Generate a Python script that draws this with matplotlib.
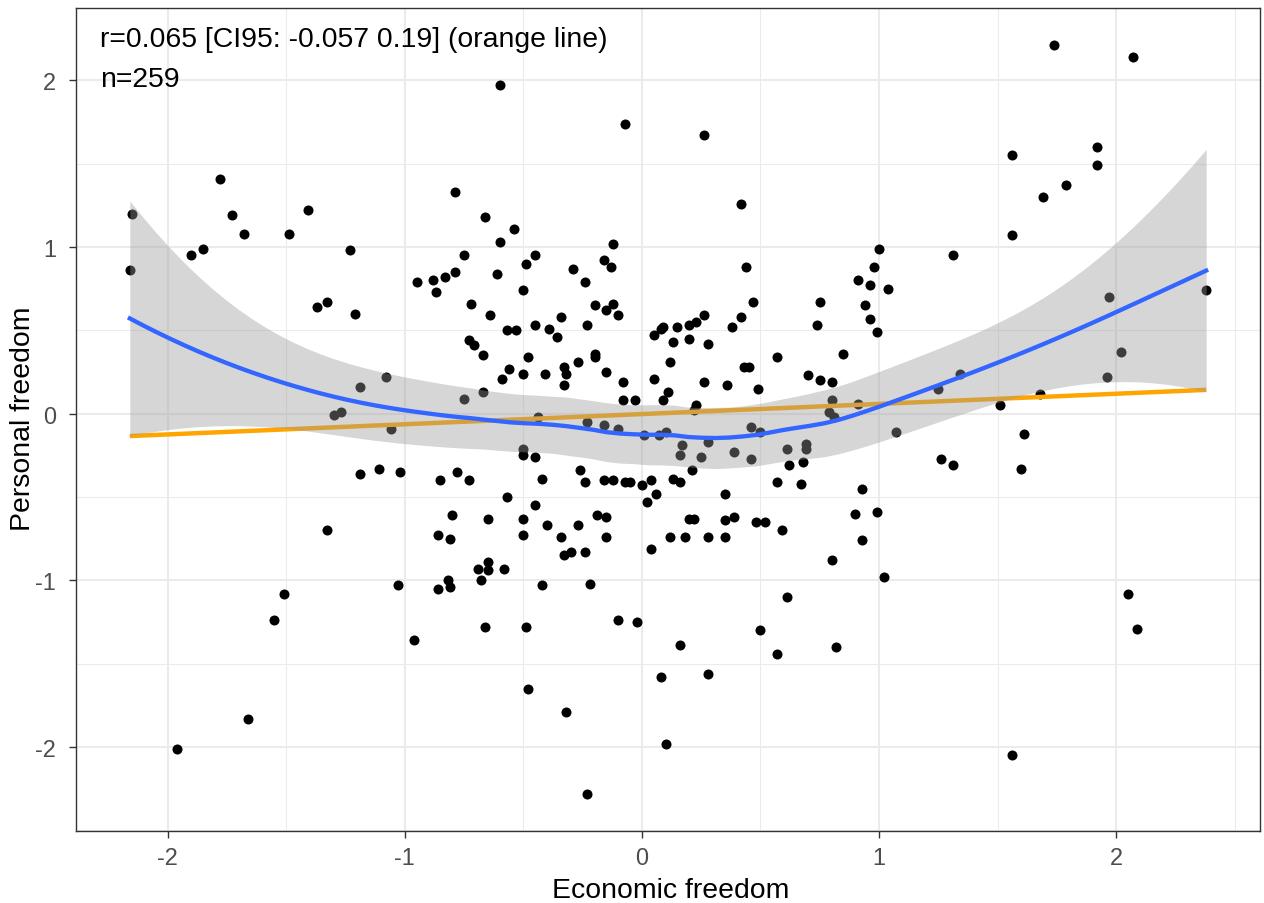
import numpy as np
import matplotlib
matplotlib.use("Agg")
import matplotlib.pyplot as plt

plt.rcParams['font.family'] = ['Liberation Sans', 'DejaVu Sans']

# Economic freedom (x) and Personal freedom (y)
econ = [
 -1.78,-2.15,-1.73,-1.41,-1.68,-1.49,-1.85,-1.90,-1.23,-2.16,
 -0.60,-0.07,-0.79,-0.66,-0.54,-0.60,-0.12,-0.75,-0.45,-0.49,
 -0.29,-0.16,-0.13,-0.61,-0.79,-0.83,-0.88,-0.95,-0.24,
 0.26,0.42,0.44,1.00,0.98,1.31,0.91,0.96,
 1.74,2.07,1.56,1.92,1.92,1.79,1.69,1.56,
 -1.37,-1.33,-1.21,-1.19,-1.30,-1.27,-1.19,-1.33,
 -0.87,-0.50,-0.72,-0.64,-0.20,-0.15,-0.12,-0.10,-0.34,-0.23,
 -0.45,-0.57,-0.53,-0.39,-0.36,-0.73,-0.71,-0.67,-0.48,-0.20,
 -0.20,-0.27,-0.33,-0.32,-0.56,-0.50,-0.41,-0.15,-0.59,-0.33,
 -0.08,0.05,0.05,0.08,0.09,0.13,0.12,0.11,0.09,-0.08,
 -0.03,-1.08,-0.75,-0.67,-1.06,-0.44,-0.23,-0.16,-0.10,0.01,
 0.07,0.10,-0.50,-0.50,-0.45,-1.11,-1.02,-0.85,-0.78,-0.73,
 -0.42,-0.26,-0.24,-0.16,-0.12,-0.07,-0.05,0.00,0.04,0.13,
 0.06,0.02,-0.57,-0.45,-0.80,-0.65,-0.50,-0.19,-0.15,-0.40,
 -0.27,-0.86,-0.81,-0.50,-0.34,-0.15,0.12,0.04,-0.33,-0.30,
 -0.24,-0.65,
 0.47,0.75,0.94,1.04,0.96,0.99,0.74,0.85,0.26,0.23,
 0.20,0.15,0.20,0.38,0.42,0.28,0.57,0.43,0.45,0.26,
 0.36,0.49,0.70,0.75,0.80,0.80,0.91,0.79,0.81,0.23,
 1.25,1.34,1.07,0.46,0.50,0.17,0.28,0.16,0.25,0.39,
 0.46,0.61,0.69,0.69,0.62,0.68,0.21,0.16,0.57,0.67,
 0.93,1.26,1.31,0.35,0.20,0.22,0.35,0.39,0.48,0.52,
 0.59,0.90,0.99,0.93,0.18,0.28,0.35,0.80,
 1.97,2.38,2.02,1.96,1.68,1.51,1.61,1.60,
 -1.51,-1.55,-1.66,-1.96,
 -1.03,-0.96,-0.86,-0.82,-0.81,-0.69,-0.65,-0.68,-0.58,-0.66,
 -0.49,-0.42,-0.22,-0.10,-0.02,0.08,-0.48,-0.32,0.10,-0.23,
 1.02,0.61,0.50,0.16,0.57,0.82,0.28,
 2.05,2.09,1.56,0.22,
]
pers = [
 1.41,1.20,1.19,1.22,1.08,1.08,0.99,0.95,0.98,0.86,
 1.97,1.74,1.33,1.18,1.11,1.03,1.02,0.95,0.95,0.90,
 0.87,0.92,0.88,0.84,0.85,0.82,0.80,0.79,0.79,
 1.67,1.26,0.88,0.99,0.88,0.95,0.80,0.77,
 2.21,2.14,1.55,1.60,1.49,1.37,1.30,1.07,
 0.64,0.67,0.60,0.16,-0.01,0.01,-0.36,-0.70,
 0.73,0.74,0.66,0.59,0.65,0.62,0.66,0.59,0.58,0.53,
 0.53,0.50,0.50,0.51,0.46,0.44,0.41,0.35,0.34,0.36,
 0.34,0.31,0.28,0.24,0.27,0.24,0.24,0.25,0.21,0.17,
 0.19,0.21,0.47,0.51,0.52,0.43,0.31,0.13,0.08,0.08,
 0.08,0.22,0.09,0.13,-0.09,-0.02,-0.05,-0.07,-0.09,-0.13,
 -0.13,-0.11,-0.21,-0.25,-0.26,-0.33,-0.35,-0.40,-0.35,-0.40,
 -0.39,-0.34,-0.41,-0.40,-0.40,-0.41,-0.41,-0.43,-0.40,-0.39,
 -0.48,-0.53,-0.50,-0.55,-0.61,-0.63,-0.63,-0.61,-0.62,-0.67,
 -0.67,-0.73,-0.75,-0.73,-0.74,-0.74,-0.74,-0.81,-0.85,-0.83,
 -0.83,-0.89,
 0.67,0.67,0.65,0.75,0.57,0.49,0.53,0.36,0.59,0.55,
 0.53,0.52,0.45,0.52,0.58,0.42,0.34,0.28,0.28,0.19,
 0.17,0.15,0.23,0.20,0.19,0.08,0.06,0.01,-0.02,0.05,
 0.15,0.24,-0.11,-0.08,-0.11,-0.19,-0.17,-0.25,-0.26,-0.23,
 -0.27,-0.21,-0.18,-0.21,-0.31,-0.29,-0.34,-0.41,-0.41,-0.42,
 -0.45,-0.27,-0.31,-0.48,-0.63,-0.63,-0.64,-0.62,-0.65,-0.65,
 -0.70,-0.60,-0.59,-0.76,-0.74,-0.74,-0.74,-0.88,
 0.70,0.74,0.37,0.22,0.12,0.05,-0.12,-0.33,
 -1.08,-1.24,-1.83,-2.01,
 -1.03,-1.36,-1.05,-1.00,-1.04,-0.93,-0.94,-1.00,-0.93,-1.28,
 -1.28,-1.03,-1.02,-1.24,-1.25,-1.58,-1.65,-1.79,-1.98,-2.28,
 -0.98,-1.10,-1.30,-1.39,-1.44,-1.40,-1.56,
 -1.08,-1.29,-2.05,0.02,
]

x_label = "Economic freedom"
y_label = "Personal freedom"
annot_r = "r=0.065 [CI95: -0.057 0.19] (orange line)"
annot_n = "n=259"
x_ticks = [-2, -1, 0, 1, 2]
y_ticks = [-2, -1, 0, 1, 2]

x = np.asarray(econ, float)
y = np.asarray(pers, float)


def loess_matrix(xd, xe, span=0.75):
    n = len(xd)
    q = int(np.floor(n * span))
    L = np.zeros((len(xe), n))
    for i, x0 in enumerate(xe):
        d = np.abs(xd - x0)
        h = np.sort(d)[q - 1]
        u = np.clip(d / h, 0, 1)
        w = (1 - u ** 3) ** 3
        X = np.column_stack([np.ones(n), xd - x0, (xd - x0) ** 2])
        XtW = X.T * w
        A = np.linalg.solve(XtW @ X, XtW)
        L[i] = A[0]
    return L


# loess fit with 95% band
Ld = loess_matrix(x, x)
res = y - Ld @ y
IL = np.eye(len(x)) - Ld
M = IL.T @ IL
delta1 = np.trace(M)
sigma = np.sqrt(np.sum(res ** 2) / delta1)
xs = np.linspace(x.min(), x.max(), 80)
Ls = loess_matrix(x, xs)
fit = Ls @ y
se = sigma * np.sqrt(np.sum(Ls ** 2, axis=1))
tq = 1.97
lo, hi = fit - tq * se, fit + tq * se

# linear fit
b1, b0 = np.polyfit(x, y, 1)
xl = np.array([x.min(), x.max()])

W, H = 1264, 904
fig = plt.figure(figsize=(W / 100, H / 100), dpi=100)
ax = fig.add_axes([76 / W, 1 - 832 / H, (1260 - 76) / W, (832 - 9) / H])

ax.scatter(x, y, s=52, color='black', linewidths=0, zorder=3)
ax.plot(xl, b0 + b1 * xl, color='#FFA500', lw=3.2, zorder=4, solid_capstyle='butt')
ax.fill_between(xs, lo, hi, color='#999999', alpha=0.4, linewidth=0, zorder=5)
ax.plot(xs, fit, color='#3366FF', lw=3.1, zorder=6)

ax.set_xticks(x_ticks)
ax.set_yticks(y_ticks)
ax.set_xticklabels([str(t) for t in x_ticks])
ax.set_yticklabels([str(t) for t in y_ticks])
ax.set_xticks(np.arange(-2.5, 3.0, 1.0), minor=True)
ax.set_yticks(np.arange(-2.5, 3.0, 1.0), minor=True)

xr = x.max() - x.min()
yr = y.max() - y.min()
ax.set_xlim(x.min() - 0.05 * xr, x.max() + 0.05 * xr)
ax.set_ylim(y.min() - 0.05 * yr, y.max() + 0.05 * yr)

ax.grid(True, which='major', color='#EBEBEB', lw=1.5, zorder=0)
ax.grid(True, which='minor', color='#EBEBEB', lw=0.75, zorder=0)
ax.set_axisbelow(True)
ax.tick_params(which='major', direction='out', length=5, width=1, color='#333333',
               labelsize=16.9, labelcolor='#4D4D4D')
ax.tick_params(axis='y', which='major', pad=9.4)
ax.tick_params(axis='x', which='major', pad=6)
ax.tick_params(which='minor', length=0)
for sp in ax.spines.values():
    sp.set_color('#333333')
    sp.set_linewidth(1.0)

fig.text(100 / W, 1 - 46.7 / H, annot_r, fontsize=20.4, ha='left', va='baseline')
fig.text(100 / W, 1 - 87 / H, annot_n, fontsize=20.4, ha='left', va='baseline')

fig.text(671 / W, 1 - 898 / H, x_label, fontsize=20.4, ha='center', va='baseline')
fig.text(30 / W, 1 - 419 / H, y_label, fontsize=20.4, ha='center', va='baseline',
         rotation=90, rotation_mode='anchor')

fig.savefig('out.png', dpi=100)
